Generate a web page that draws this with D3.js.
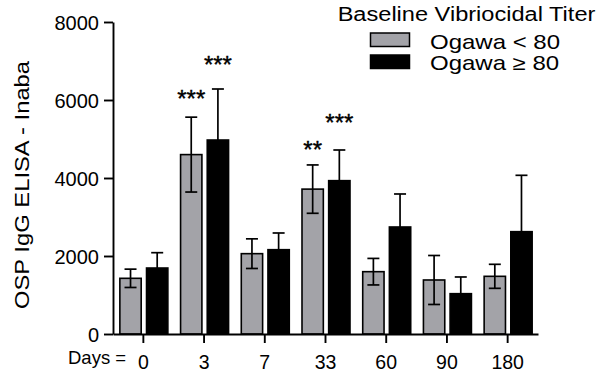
<!DOCTYPE html>
<html>
<head>
<meta charset="utf-8">
<script src="https://cdn.jsdelivr.net/npm/d3@7"></script>
<style>
  html, body { margin: 0; padding: 0; background: #fff; }
  svg { display: block; font-family: "Liberation Sans", Arial, Helvetica, sans-serif; }
</style>
</head>
<body>
<svg id="chart" width="602" height="377"></svg>
<script>
// ---- data ----
const days = ["0", "3", "7", "33", "60", "90", "180"];
const seriesNames = ["Ogawa < 80", "Ogawa \u2265 80"];
const lowMeans  = [1428, 4600, 2060, 3715, 1598, 1385, 1479];
const lowErr    = [235, 960, 380, 620, 340, 628, 308];
const highMeans = [1692, 4974, 2162, 3932, 2744, 1034, 2624];
const highErr   = [393, 1308, 428, 786, 846, 428, 1445];
const yTicks = [0, 2000, 4000, 6000, 8000];
// significance annotations: series index, day, label, value position
const starSeries = [0, 1, 0, 1];
const starDays   = ["3", "3", "33", "33"];
const starLabels = ["***", "***", "**", "***"];
const starValues = [6180, 7050, 4870, 5560];

const legendTitle = "Baseline Vibriocidal Titer";
const yTitle = "OSP IgG ELISA - Inaba";
const xPrefix = "Days =";

// ---- build ----
const colors = ["#a3a3a8", "#000000"];
const svg = d3.select("#chart");

const y = d3.scaleLinear().domain([0, 8000]).range([334, 22]);
const x = d3.scaleBand().domain(days).range([113, 538]);
const x1 = d3.scaleBand().domain([0, 1]).range([-23.5, 24.5]).paddingInner(0.2);
const cx = d => x(d) + x.bandwidth() / 2;

const rows = [];
days.forEach((d, i) => {
  rows.push({day: d, s: 0, v: lowMeans[i], e: lowErr[i]});
  rows.push({day: d, s: 1, v: highMeans[i], e: highErr[i]});
});

// bars
svg.append("g").selectAll("rect").data(rows).join("rect")
  .attr("x", d => cx(d.day) + x1(d.s))
  .attr("y", d => y(d.v))
  .attr("width", x1.bandwidth())
  .attr("height", d => y(0) - y(d.v))
  .attr("fill", d => colors[d.s])
  .attr("stroke", "#000")
  .attr("stroke-width", 1.6);

// error bars
const eg = svg.append("g").attr("stroke", "#000").attr("stroke-width", 1.7);
rows.forEach(d => {
  const mx = cx(d.day) + x1(d.s) + x1.bandwidth() / 2;
  eg.append("line").attr("x1", mx).attr("x2", mx).attr("y1", y(d.v + d.e)).attr("y2", y(d.v - d.e));
  eg.append("line").attr("x1", mx - 6).attr("x2", mx + 6).attr("y1", y(d.v + d.e)).attr("y2", y(d.v + d.e));
  eg.append("line").attr("x1", mx - 6).attr("x2", mx + 6).attr("y1", y(d.v - d.e)).attr("y2", y(d.v - d.e));
});

// axes
const yAxis = svg.append("g").attr("transform", "translate(113,0)")
  .call(d3.axisLeft(y).tickValues(yTicks).tickFormat(d3.format("d")).tickSize(9).tickSizeOuter(0).tickPadding(5));
const xAxis = svg.append("g").attr("transform", "translate(0,334)")
  .call(d3.axisBottom(x).tickSize(9).tickSizeOuter(0).tickPadding(12));
[yAxis, xAxis].forEach(a => {
  a.select(".domain").attr("stroke", "#000").attr("stroke-width", 1.9);
  a.selectAll(".tick line").attr("stroke", "#000").attr("stroke-width", 1.9);
  a.selectAll(".tick text").attr("fill", "#000")
    .attr("font-family", "'Liberation Sans', Arial, sans-serif");
});
yAxis.selectAll(".tick text").attr("font-size", 20).attr("dy", "0.36em");
xAxis.selectAll(".tick text").attr("font-size", 19.5).attr("dy", "0.71em");

svg.append("text").attr("x", 68).attr("y", 364).attr("font-size", 18.5).text(xPrefix);

// y title
svg.append("text")
  .attr("transform", "translate(29,185) rotate(-90) scale(1.22,1)")
  .attr("text-anchor", "middle")
  .attr("font-size", 19.5)
  .text(yTitle);

// stars
starLabels.forEach((lab, i) => {
  const sx = cx(starDays[i]) + x1(starSeries[i]) + x1.bandwidth() / 2;
  svg.append("text")
    .attr("x", sx).attr("y", y(starValues[i]) + 14)
    .attr("text-anchor", "middle")
    .attr("font-size", 24)
    .attr("stroke", "#000").attr("stroke-width", 0.4)
    .text(lab);
});

// legend
svg.append("text")
  .attr("transform", "translate(466.5,21) scale(1.21,1)")
  .attr("text-anchor", "middle")
  .attr("font-size", 19.5)
  .text(legendTitle);
seriesNames.forEach((n, i) => {
  const ly = i === 0 ? 33 : 55;
  svg.append("rect").attr("x", 370.5).attr("y", ly).attr("width", 39).attr("height", 13.5)
    .attr("fill", colors[i]).attr("stroke", "#000").attr("stroke-width", 1.5);
  svg.append("text")
    .attr("transform", `translate(430,${i === 0 ? 49 : 70}) scale(1.2,1)`)
    .attr("font-size", 20)
    .text(n);
});
</script>
</body>
</html>
